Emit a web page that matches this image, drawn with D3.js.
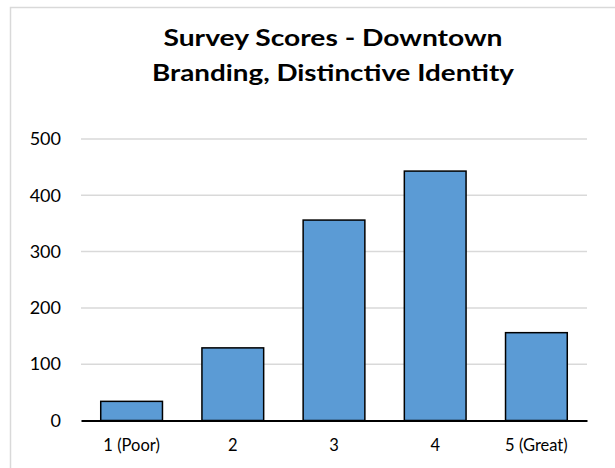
<!DOCTYPE html>
<html>
<head>
<meta charset="utf-8">
<script src="https://cdn.jsdelivr.net/npm/d3@7"></script>
<style>
  html, body { margin: 0; padding: 0; background: #fff; }
  svg { display: block; }
</style>
</head>
<body>
<svg id="chart" width="615" height="468"></svg>
<script>
const categories = ["1 (Poor)", "2", "3", "4", "5 (Great)"];
const values = [34, 129, 356, 443, 156];
const yTicks = [0, 100, 200, 300, 400, 500];
const titleLines = ["Survey Scores - Downtown", "Branding, Distinctive Identity"];

const W = 615, H = 468;
const margin = { left: 81, right: 28, top: 139, bottom: 47.5 };
const svg = d3.select("#chart");

// outer chart border (cropped on right / bottom)
svg.append("rect")
  .attr("x", 10.5).attr("y", 7.5)
  .attr("width", 640).attr("height", 500)
  .attr("fill", "#fff")
  .attr("stroke", "#d9d9d9")
  .attr("stroke-width", 1.5);

const x = d3.scaleBand()
  .domain(categories)
  .range([margin.left, W - margin.right])
  .paddingInner(0.39)
  .paddingOuter(0.195);

const y = d3.scaleLinear()
  .domain([0, 500])
  .range([H - margin.bottom, margin.top]);

// gridlines
svg.append("g")
  .selectAll("line")
  .data(yTicks.filter(d => d > 0))
  .join("line")
  .attr("x1", margin.left).attr("x2", W - margin.right)
  .attr("y1", d => y(d)).attr("y2", d => y(d))
  .attr("stroke", "#d9d9d9")
  .attr("stroke-width", 1.5);

// y axis labels
const yAxis = d3.axisLeft(y).tickValues(yTicks).tickSize(0).tickPadding(20);
const gy = svg.append("g")
  .attr("transform", `translate(${margin.left},0)`)
  .call(yAxis);
gy.select(".domain").remove();
gy.selectAll("text")
  .attr("font-family", "Lato, 'Open Sans', sans-serif")
  .attr("font-size", 18)
  .attr("fill", "#000");

// bars
svg.append("g")
  .selectAll("rect")
  .data(values)
  .join("rect")
  .attr("x", (d, i) => x(categories[i]))
  .attr("y", d => y(d))
  .attr("width", x.bandwidth())
  .attr("height", d => y(0) - y(d))
  .attr("fill", "#5b9bd5")
  .attr("stroke", "#000")
  .attr("stroke-width", 1.5);

// x axis
const xAxis = d3.axisBottom(x).tickSize(0).tickPadding(19);
const gx = svg.append("g")
  .attr("transform", `translate(0,${y(0)})`)
  .call(xAxis);
gx.select(".domain")
  .attr("stroke", "#000")
  .attr("stroke-width", 2);
gx.selectAll("text")
  .attr("font-family", "Lato, 'Open Sans', sans-serif")
  .attr("font-size", 16.5)
  .attr("fill", "#000");

// title
const titleWidths = [339, 362];
svg.append("g")
  .selectAll("text")
  .data(titleLines)
  .join("text")
  .attr("x", 333)
  .attr("y", (d, i) => 46 + i * 35)
  .attr("text-anchor", "middle")
  .attr("font-family", "Lato, 'Open Sans', sans-serif")
  .attr("font-weight", "bold")
  .attr("font-size", 23)
  .attr("textLength", (d, i) => titleWidths[i])
  .attr("lengthAdjust", "spacingAndGlyphs")
  .attr("fill", "#000")
  .text(d => d);
</script>
</body>
</html>
